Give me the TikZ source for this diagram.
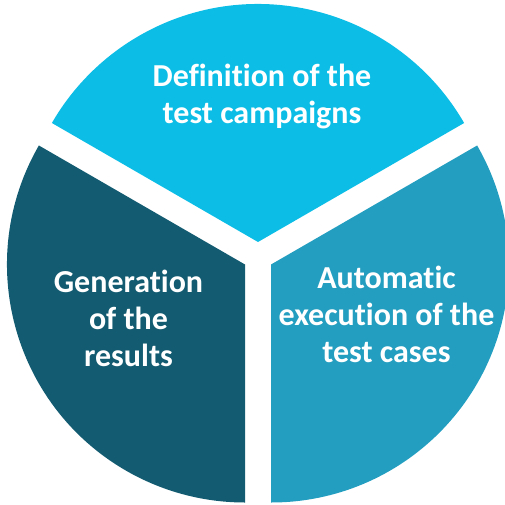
\documentclass[tikz,border=0pt]{standalone}
\usepackage{fontspec}
\setmainfont{Carlito}[RawFeature={-liga;-clig;-calt;-dlig}]
\definecolor{segtop}{RGB}{12,190,230}
\definecolor{segleft}{RGB}{18,91,112}
\definecolor{segright}{RGB}{36,158,192}
\begin{document}
\begin{tikzpicture}[x=1pt,y=1pt,
  label text/.style={text=white,font=\fontsize{32}{37}\selectfont\bfseries,align=center,inner sep=0pt}]
  \clip (0,0) rectangle (505,504);
  \useasboundingbox (0,0) rectangle (505,504);
  % three 120-degree wedges, each pushed 15pt out from the common centre
  \def\R{238}
  \fill[segtop]   (258,262)   -- ++(30:\R)  arc[start angle=30,end angle=150,radius=\R] -- cycle;
  \fill[segleft]  (245,239.5) -- ++(150:\R) arc[start angle=150,end angle=270,radius=\R] -- cycle;
  \fill[segright] (271,239.5) -- ++(270:\R) arc[start angle=270,end angle=390,radius=\R] -- cycle;
  % captions
  \node[label text] (tdef) at (262,408) {Definition of the\\test campaigns};
  \node[label text] (tgen) at (128.5,186) {Generation\\of the\\results};
  \node[label text] (taut) at (386.5,190) {Automatic\\execution of the\\test cases};
\end{tikzpicture}
\end{document}
